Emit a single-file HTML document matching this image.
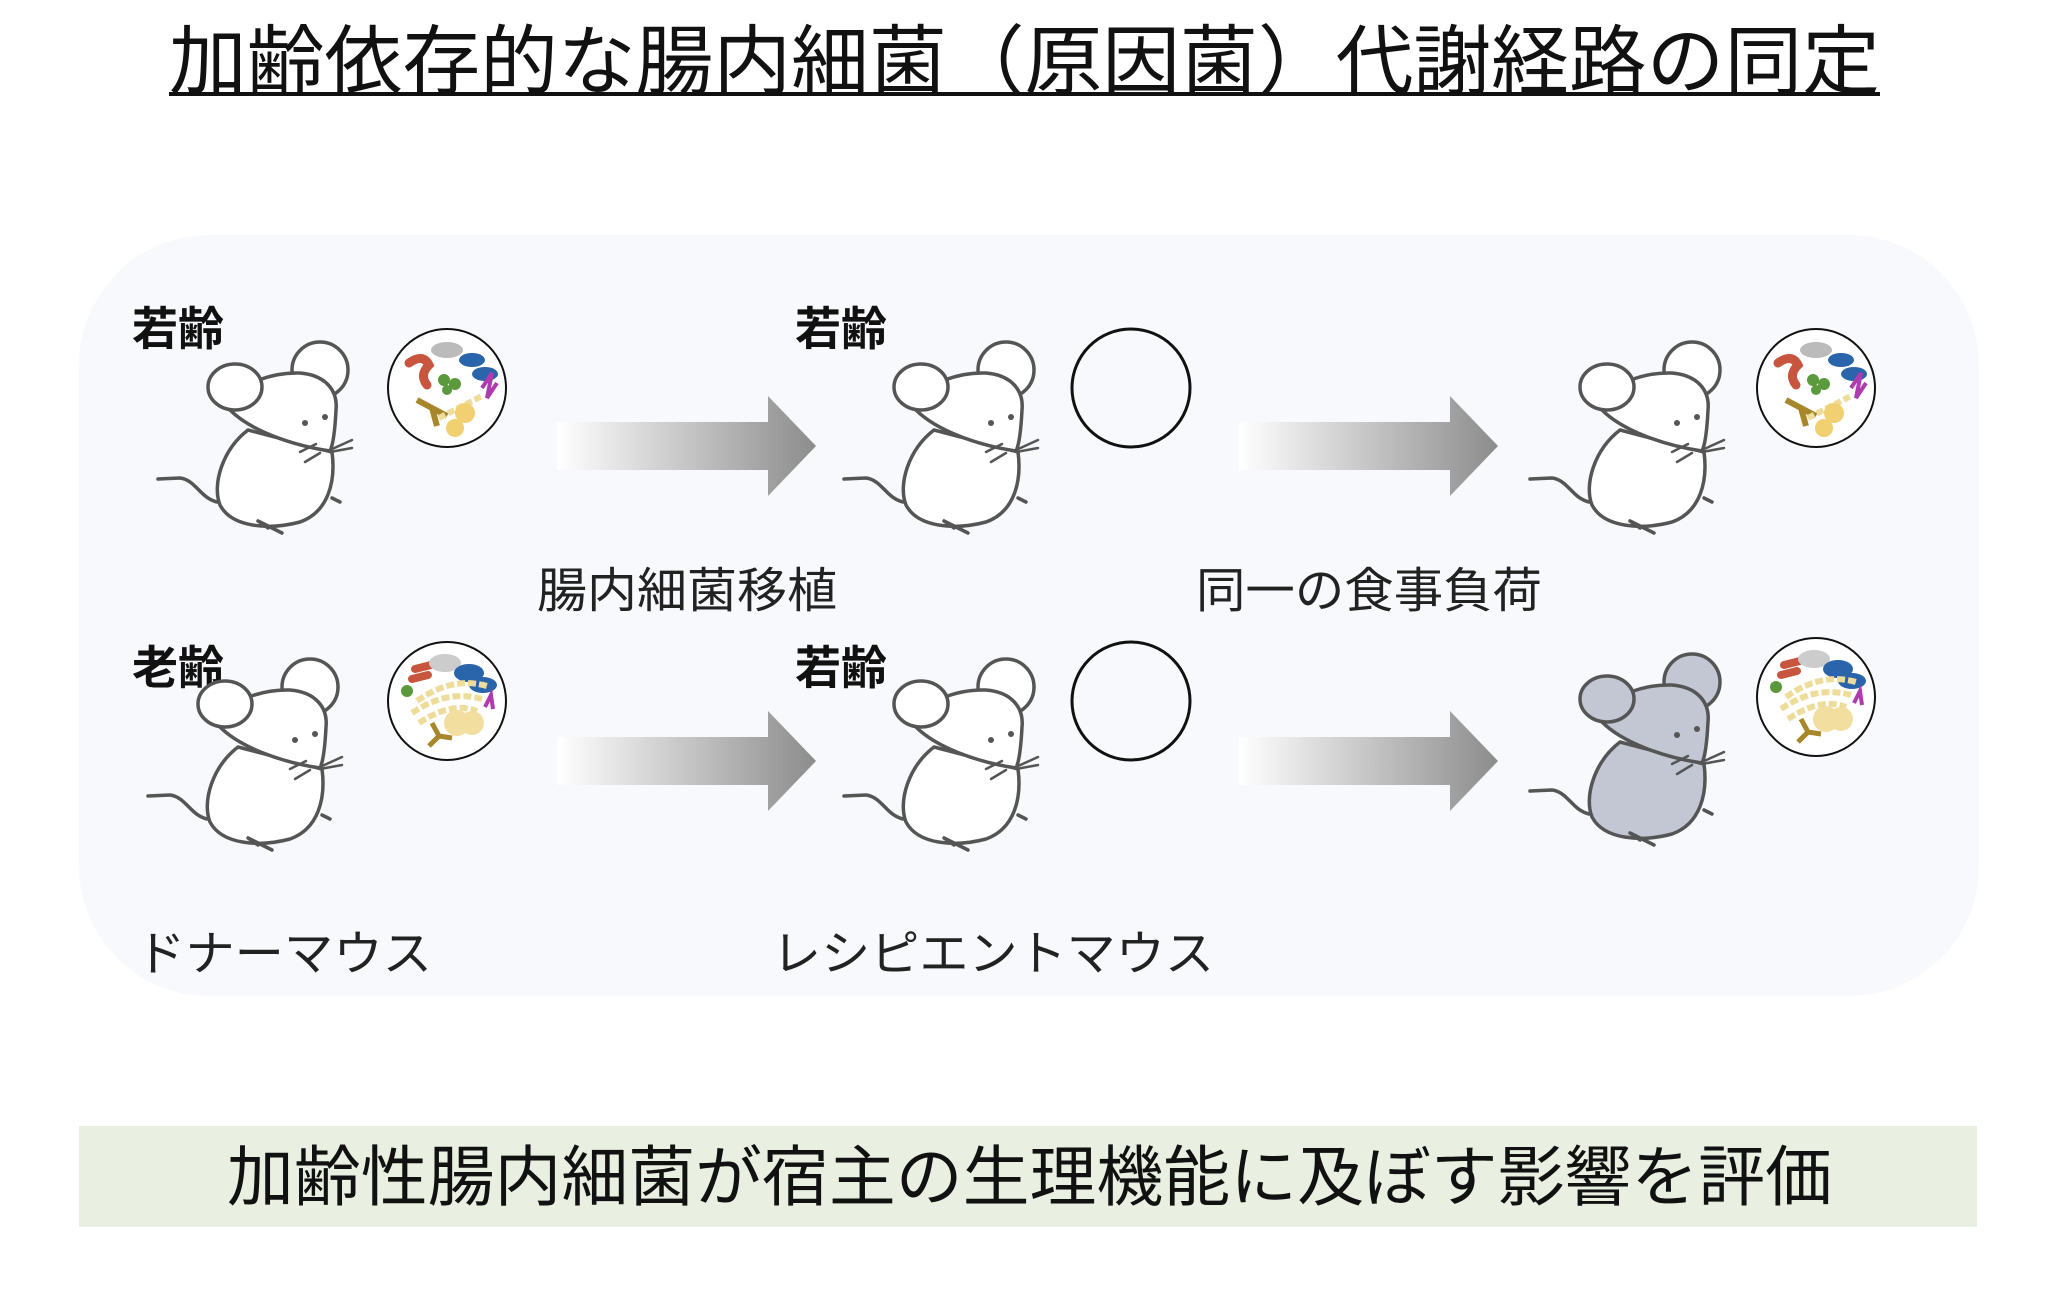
<!DOCTYPE html>
<html><head><meta charset="utf-8"><style>
html,body{margin:0;padding:0;background:#fff;}
svg{display:block;}
text{font-family:"Liberation Sans","Noto Sans CJK JP",sans-serif;}
</style></head><body>
<svg width="2048" height="1296" viewBox="0 0 2048 1296" xmlns="http://www.w3.org/2000/svg">
<defs>
<linearGradient id="ag" x1="0" x2="1" y1="0" y2="0">
<stop offset="0" stop-color="#ffffff"/><stop offset="1" stop-color="#8c8c8c"/>
</linearGradient>
<g id="mouse" stroke="#555" stroke-width="3.5" stroke-linecap="round" stroke-linejoin="round">
<path d="M217,502 C200,498 196,480 180,478 L158,479" fill="none"/>
<path d="M248,430 C222,450 212,485 220,505 C232,528 270,530 300,522 C328,512 336,482 332,452 Z"/>
<circle cx="320" cy="370" r="28"/>
<path d="M230,400 C240,385 270,372 300,373 C325,375 338,390 336,410 C335,430 333,445 330,451 C290,445 250,430 230,410 Z"/>
<ellipse cx="235" cy="387" rx="27" ry="23"/>
<circle cx="305" cy="423" r="3" fill="#555" stroke="none"/>
<circle cx="325" cy="417" r="3" fill="#555" stroke="none"/>
<path d="M330,450 L352,440 M330,452 L352,448 M300,452 L316,444 M305,462 L320,453" fill="none" stroke-width="2.5"/>
<path d="M258,521 L282,533 M258,521 L268,528 M332,498 L340,502" fill="none"/>
</g>
<g id="bact">
<circle cx="0" cy="0" r="59" fill="#fff" stroke="#111" stroke-width="2"/>
<path d="M-38,-25 q14,-10 20,2 q-10,10 -2,20" stroke="#c8553d" stroke-width="9" fill="none" stroke-linecap="round"/>
<ellipse cx="0" cy="-38" rx="16" ry="8" fill="#bbb"/>
<ellipse cx="25" cy="-28" rx="13" ry="7" fill="#2a64aa"/>
<ellipse cx="38" cy="-14" rx="13" ry="7" fill="#2a64aa"/>
<circle cx="-3" cy="-8" r="6" fill="#5a9a3c"/><circle cx="8" cy="-4" r="6" fill="#5a9a3c"/><circle cx="0" cy="2" r="5" fill="#5a9a3c"/>
<path d="M-30,12 L-15,20 L-10,38 M-15,20 L0,28" stroke="#a8862a" stroke-width="6" fill="none"/>
<path d="M-8,30 L35,8" stroke="#eedc9a" stroke-width="6" stroke-dasharray="7 3"/>
<circle cx="18" cy="25" r="10" fill="#f0d070"/><circle cx="8" cy="40" r="9" fill="#f0d070"/>
<path d="M35,0 L45,-15 L40,10 L50,-5" stroke="#b03ab0" stroke-width="4" fill="none"/>
</g>
<g id="bact2">
<circle cx="0" cy="0" r="59" fill="#fff" stroke="#111" stroke-width="2"/>
<path d="M-32,-32 l16,-4 M-35,-22 l16,-4" stroke="#c8553d" stroke-width="8" stroke-linecap="round"/>
<ellipse cx="-2" cy="-38" rx="16" ry="9" fill="#ccc"/>
<ellipse cx="22" cy="-28" rx="15" ry="9" fill="#2a64aa"/><ellipse cx="36" cy="-16" rx="14" ry="8" fill="#2a64aa"/>
<circle cx="-40" cy="-10" r="6" fill="#5a9a3c"/>
<path d="M-30,0 Q5,-25 40,-15 M-35,12 Q0,-12 35,-2 M-28,22 Q5,0 30,10" stroke="#eedc9a" stroke-width="6" fill="none" stroke-dasharray="8 3"/>
<circle cx="10" cy="22" r="13" fill="#f2dfa0"/><circle cx="25" cy="22" r="12" fill="#f2dfa0"/>
<path d="M-15,22 L-8,35 L-18,45 M-8,35 L5,37" stroke="#a8862a" stroke-width="5" fill="none"/>
<path d="M38,6 L44,-6 L46,8" stroke="#b03ab0" stroke-width="4" fill="none"/>
</g>
<g id="arrow">
<path d="M0,-24 L211,-24 L211,-50 L259,0 L211,50 L211,24 L0,24 Z" fill="url(#ag)"/>
</g>
</defs>

<text x="169" y="88" font-size="76" textLength="1711" lengthAdjust="spacingAndGlyphs" fill="#111">加齢依存的な腸内細菌（原因菌）代謝経路の同定</text>
<rect x="169" y="92" width="1711" height="4" fill="#111"/>

<rect x="79" y="235" width="1900" height="761" rx="130" fill="#f8f9fc"/>

<g font-weight="bold" font-size="46" fill="#111">
<text x="132" y="345">若齢</text>
<text x="795" y="345">若齢</text>
<text x="132" y="684">老齢</text>
<text x="795" y="684">若齢</text>
</g>

<g fill="#fff"><use href="#mouse"/></g>
<g fill="#fff"><use href="#mouse" transform="translate(686,0)"/></g>
<g fill="#fff"><use href="#mouse" transform="translate(1372,0)"/></g>
<g fill="#fff"><use href="#mouse" transform="translate(-10,317)"/></g>
<g fill="#fff"><use href="#mouse" transform="translate(686,317)"/></g>
<g fill="#c3c7d4"><use href="#mouse" transform="translate(1372,312)"/></g>

<use href="#bact" transform="translate(447,388)"/>
<use href="#bact" transform="translate(1816,388)"/>
<use href="#bact2" transform="translate(447,701)"/>
<use href="#bact2" transform="translate(1816,697)"/>
<circle cx="1131" cy="388" r="59" fill="none" stroke="#111" stroke-width="3"/>
<circle cx="1131" cy="701" r="59" fill="none" stroke="#111" stroke-width="3"/>

<use href="#arrow" transform="translate(557,446)"/>
<use href="#arrow" transform="translate(1239,446)"/>
<use href="#arrow" transform="translate(557,761)"/>
<use href="#arrow" transform="translate(1239,761)"/>

<g font-size="48" fill="#222">
<text x="537" y="607" textLength="300" lengthAdjust="spacingAndGlyphs">腸内細菌移植</text>
<text x="1196" y="607" textLength="346" lengthAdjust="spacingAndGlyphs">同一の食事負荷</text>
<text x="136" y="970" textLength="296" lengthAdjust="spacingAndGlyphs">ドナーマウス</text>
<text x="772" y="970" textLength="442" lengthAdjust="spacingAndGlyphs">レシピエントマウス</text>
</g>

<rect x="79" y="1126" width="1898" height="101" fill="#e9f0e1"/>
<text x="227" y="1200" font-size="66" fill="#111" textLength="1605" lengthAdjust="spacingAndGlyphs">加齢性腸内細菌が宿主の生理機能に及ぼす影響を評価</text>
</svg>
</body></html>
